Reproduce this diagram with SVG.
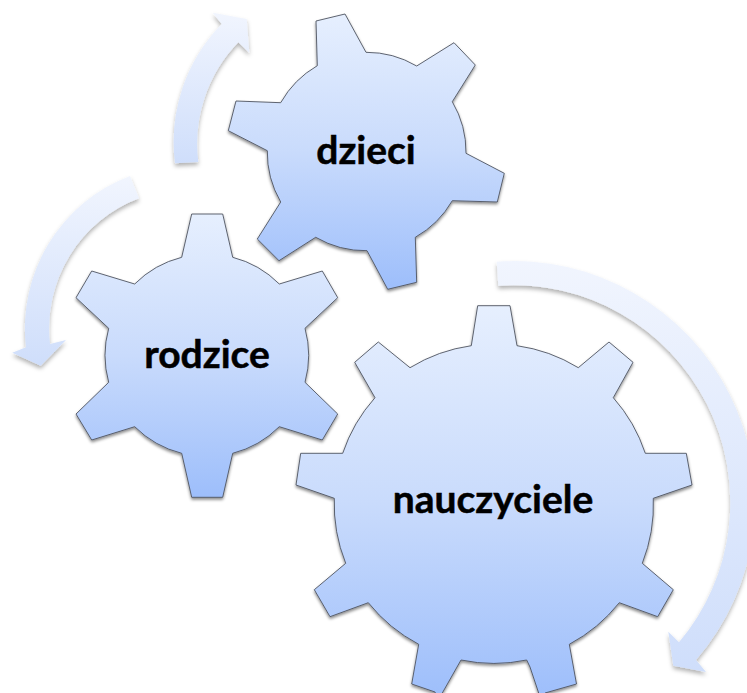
<svg xmlns="http://www.w3.org/2000/svg" width="747" height="693" viewBox="0 0 747 693">
<style>
.gear{stroke:#4f5561;stroke-width:.9;stroke-linejoin:miter;filter:url(#sh)}
.arrow{stroke:none;filter:url(#sh2)}
text{font-family:"Lato","Open Sans","Liberation Sans",sans-serif;font-weight:700;font-size:39px;fill:#000;stroke:#000;stroke-width:.5;text-anchor:middle}
</style>
<defs>
<linearGradient id="g" x1="0" y1="0" x2="0" y2="1"><stop offset="0" stop-color="#e6effe"/><stop offset=".5" stop-color="#c9dbfc"/><stop offset="1" stop-color="#9dbefb"/></linearGradient>
<linearGradient id="a" x1="0" y1="0" x2="0" y2="1"><stop offset="0" stop-color="#f1f5fe"/><stop offset="1" stop-color="#cfdefb"/></linearGradient>
<filter id="sh" x="-10%" y="-10%" width="120%" height="120%"><feDropShadow dx="0" dy="2" stdDeviation="1.5" flood-color="#000" flood-opacity=".45"/></filter>
<filter id="sh2" x="-20%" y="-10%" width="140%" height="125%"><feDropShadow dx="0" dy="3" stdDeviation="2" flood-color="#000" flood-opacity=".3"/></filter>
</defs>
<g id="connectors">
<path class="arrow" fill="url(#a)" d="M175 163.3A169 169 0 0 1 221.7 24L212.7 12.7L246.7 19L249.3 52.7L238.3 42.3A146 146 0 0 0 198.3 162Z"/>
<path class="arrow" fill="url(#a)" d="M130 176A163 163 0 0 0 26 347.3L12.3 352.7L40.7 365.7L66 340L50 344A139 139 0 0 1 139 198.3Z"/>
<path class="arrow" fill="url(#a)" d="M496.7 261.7A241 241 0 0 1 696 660L706 672L673.3 665.7L668.3 631.7L679 642.3A217 217 0 0 0 498.3 285.7Z"/>
</g>
<g id="dzieci">
<path class="gear" fill="url(#g)" d="M316 21L345 14L366 52.3A99 99 0 0 1 416.7 66L454 42.7L475.3 65L452.3 101.7A99 99 0 0 1 466 153.3L504.3 173.3L497.3 202L452.3 200.7A99 99 0 0 1 415.3 237.3L416.7 282.3L387.7 289.3L367 250.7A99 99 0 0 1 315.7 237.3L279 260.7L257.3 239L280.7 202A99 99 0 0 1 267.3 150.7L228.3 130.7L236 101L280.7 102.7A99 99 0 0 1 317.3 65.7Z"/>
<text x="366" y="164">dzieci</text>
</g>
<g id="rodzice">
<path class="gear" fill="url(#g)" d="M191.7 214L222.7 214L232.7 257.3A101.5 101.5 0 0 1 279.3 284L322.3 271L337.7 297.7L305 328.3A101.5 101.5 0 0 1 305 382.3L337.7 414L322.3 440L279.3 426.7A101.5 101.5 0 0 1 232.7 453.3L222.7 497.3L191.7 497.3L181.7 453.3A101.5 101.5 0 0 1 134.7 426.7L91.7 440L76 414L108.7 382.3A101.5 101.5 0 0 1 108.7 328.3L76 297.7L91.7 271L134.7 284A101.5 101.5 0 0 1 181.7 257.3Z"/>
<text x="207" y="368">rodzice</text>
</g>
<g id="nauczyciele">
<path class="gear" fill="url(#g)" d="M477.7 305.7L510 305.7L517 345.7A160 160 0 0 1 578.3 367.7L609 342L633 362.3L613.3 397.7A160 160 0 0 1 645.3 453.3L686.3 453.3L692 485L653.3 498.3A160 160 0 0 1 642.3 563.3L673.3 589.7L657.7 616.7L619.3 602.7A160 160 0 0 1 569.3 644.3L576.5 684L545 693L541 700L530 667L526.7 660A160 160 0 0 1 461 660L442.3 693L438 700L435 692L411.7 684L418.7 644.3A160 160 0 0 1 368.3 602.7L330 616.7L314.3 589.7L345.7 563.3A160 160 0 0 1 334.3 498.3L296 485L300.7 453.3L342.7 453.3A160 160 0 0 1 375 397.7L354.7 362.3L378.3 342L410 367.7A160 160 0 0 1 471.3 345.7Z"/>
<text x="493" y="513">nauczyciele</text>
</g>
</svg>
